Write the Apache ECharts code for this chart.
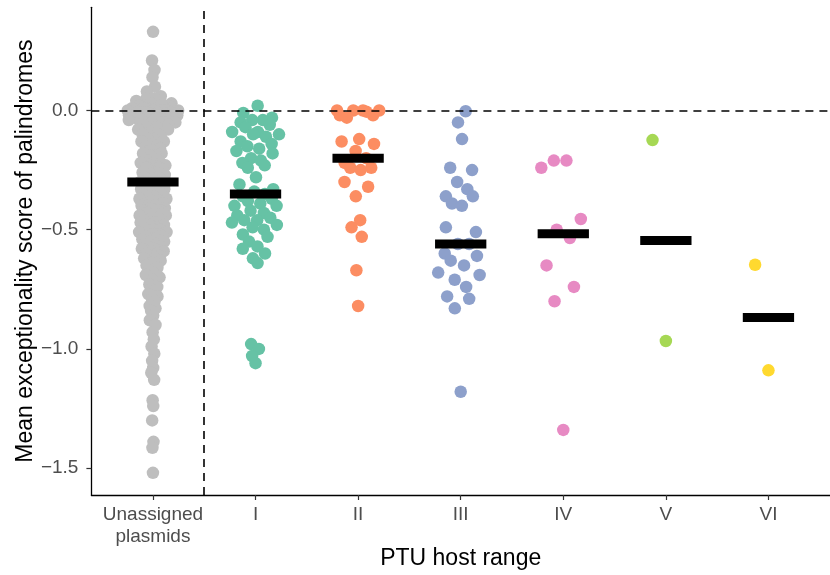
<!DOCTYPE html>
<html><head><meta charset="utf-8">
<script src="https://cdn.jsdelivr.net/npm/echarts@6/dist/echarts.min.js"></script>
<style>html,body{margin:0;padding:0;background:#fff}#c{width:830px;height:575px}</style>
</head><body><div id="c"></div>
<script>
const categories = ['Unassigned\nplasmids','I','II','III','IV','V','VI'];
const colors = ['#BEBEBE','#66C2A5','#FC8D62','#8DA0CB','#E78AC3','#A6D854','#FFD92F'];
const yTicks = [-1.5, -1.0, -0.5, 0.0];

const unassigned = [
 0.33,0.21,0.17,0.14,0.10,0.08,0.06,0.05,0.05,0.04,
 0.03,0.03,0.02,0.02,0.02,0.01,0.01,0.01,0.01,0.01,
 0.00,0.00,0.00,0.00,0.00,0.00,0.00,0.00,0.00,0.00,
 -0.01,-0.01,-0.01,-0.01,-0.01,-0.01,-0.01,-0.01,-0.01,-0.01,
 -0.02,-0.02,-0.02,-0.02,-0.02,-0.02,-0.02,-0.02,
 -0.03,-0.03,-0.03,-0.03,-0.03,-0.03,-0.04,-0.04,-0.04,-0.04,-0.05,-0.05,-0.05,
 -0.06,-0.06,-0.07,-0.07,-0.08,-0.08,-0.09,-0.10,-0.10,-0.11,-0.12,-0.12,-0.13,-0.13,-0.14,
 -0.15,-0.15,-0.16,-0.17,-0.17,-0.18,-0.18,-0.19,-0.19,-0.20,-0.21,-0.21,-0.22,-0.22,
 -0.23,-0.23,-0.24,-0.24,-0.25,-0.25,-0.26,-0.26,-0.27,-0.27,-0.28,-0.28,
 -0.29,-0.29,-0.29,-0.30,-0.30,-0.30,-0.30,
 -0.31,-0.31,-0.32,-0.32,-0.33,-0.33,-0.34,-0.34,-0.35,-0.35,-0.36,-0.36,-0.37,-0.37,
 -0.38,-0.38,-0.39,-0.39,-0.40,-0.40,-0.40,-0.41,-0.41,-0.42,-0.42,-0.42,-0.43,-0.43,
 -0.44,-0.44,-0.45,-0.45,-0.46,-0.46,-0.46,-0.47,-0.47,-0.48,-0.48,-0.49,-0.49,
 -0.50,-0.50,-0.50,-0.51,-0.51,-0.52,-0.52,-0.53,-0.53,-0.53,-0.54,-0.54,-0.55,-0.55,
 -0.56,-0.56,-0.57,-0.57,-0.58,-0.58,
 -0.59,-0.59,-0.60,-0.60,-0.61,-0.61,-0.62,-0.62,-0.63,-0.64,-0.64,-0.65,-0.66,
 -0.67,-0.68,-0.69,-0.70,-0.71,-0.72,-0.73,-0.74,-0.75,-0.76,-0.77,-0.78,-0.79,-0.80,
 -0.82,-0.83,-0.84,-0.86,-0.88,
 -0.90,-0.93,-0.96,-0.99,-1.02,-1.05,
 -1.08,-1.10,-1.13,
 -1.215,-1.24,-1.30,-1.39,-1.415,-1.52
];
const hostI = [0.02,-0.01,-0.03,-0.04,-0.04,-0.05,-0.06,-0.07,
 -0.09,-0.09,-0.10,-0.10,-0.11,-0.13,-0.14,-0.15,-0.16,-0.17,-0.18,-0.20,-0.21,-0.22,-0.23,-0.24,
 -0.28,-0.31,-0.33,-0.34,-0.35,-0.36,
 -0.37,-0.38,-0.39,-0.40,-0.40,-0.42,-0.43,-0.44,-0.45,-0.46,-0.46,-0.47,-0.48,-0.49,-0.50,
 -0.52,-0.53,-0.55,-0.57,-0.58,-0.60,-0.62,-0.64,
 -0.98,-1.00,-1.03,-1.06];
const hostII = [0.00,0.00,0.00,0.00,-0.005,-0.02,-0.02,-0.03,-0.12,-0.13,-0.14,-0.17,-0.20,-0.22,-0.24,-0.24,-0.25,-0.30,-0.32,-0.36,-0.46,-0.49,-0.53,-0.67,-0.82];
const hostIII = [-0.003,-0.05,-0.12,-0.24,-0.25,-0.30,-0.33,-0.36,-0.36,-0.39,-0.40,-0.49,-0.51,-0.56,-0.56,-0.60,-0.61,-0.63,-0.65,-0.68,-0.69,-0.71,-0.74,-0.78,-0.79,-0.83,-1.18];
const hostIV = [-0.21,-0.21,-0.24,-0.455,-0.50,-0.535,-0.65,-0.74,-0.80,-1.34];
const hostV = [-0.124,-0.967];
const hostVI = [-0.647,-1.09];

const groups = [unassigned, hostI, hostII, hostIII, hostIV, hostV, hostVI];
const FONT = '"Liberation Sans", Arial, Helvetica, sans-serif';

// quasirandom (van der Corput) offsets scaled by kernel density, as ggbeeswarm does
function sd(a){const m=a.reduce((s,v)=>s+v,0)/a.length;return Math.sqrt(a.reduce((s,v)=>s+(v-m)*(v-m),0)/(a.length-1));}
function q7(s,p){const h=(s.length-1)*p,lo=Math.floor(h),hi=Math.ceil(h);return s[lo]+(h-lo)*(s[hi]-s[lo]);}
function bwNrd0(a){const s=[...a].sort((x,y)=>x-y);const hi=sd(a);let lo=Math.min(hi,(q7(s,0.75)-q7(s,0.25))/1.34);if(!lo)lo=hi||Math.abs(a[0])||1;return 0.9*lo*Math.pow(a.length,-0.2);}
function dens(a,bw,x){let s=0;for(const v of a){const z=(x-v)/bw;s+=Math.exp(-0.5*z*z);}return s;}
function vdc(k){let r=0,f=0.5;while(k>0){if(k&1)r+=f;k>>=1;f/=2;}return r;}
function offsets(a,adjust){
  const n=a.length;if(n===1)return[0];
  const bw=bwNrd0(a)*adjust;
  const lo=Math.min(...a)-3*bw,hi=Math.max(...a)+3*bw;
  let mx=0;for(let i=0;i<1024;i++){const x=lo+(hi-lo)*i/1023;mx=Math.max(mx,dens(a,bw,x));}
  const idx=a.map((v,i)=>i).sort((i,j)=>(a[i]-a[j])||(i-j));
  const rank=new Array(n);idx.forEach((i,r)=>rank[i]=r+1);
  return a.map((v,i)=>(vdc(rank[i])-0.5)*2*dens(a,bw,v)/mx);
}
function median(a){const s=[...a].sort((x,y)=>x-y);const n=s.length;return n%2?s[(n-1)/2]:(s[n/2-1]+s[n/2])/2;}

const WIDTH = 0.26;
const series = [{
  type:'scatter', data:[], z:1, silent:true,
  markLine:{silent:true, symbol:'none', label:{show:false}, animation:false,
    lineStyle:{type:[8,6], color:'#000', width:1.6},
    data:[{yAxis:0},{xAxis:0.5}]}
}];
groups.forEach((g,gi)=>{
  const off = offsets(g,0.5);
  series.push({type:'scatter', z:2, symbolSize:12.5, silent:true,
    itemStyle:{color:colors[gi], opacity:1},
    data:g.map((v,i)=>[gi+WIDTH*off[i], v])});
});
const medData = groups.map((g,gi)=>[gi, median(g)]);
series.push({type:'custom', z:5, silent:true, data:medData,
  renderItem:(params,api)=>{
    const c=api.value(0), m=api.value(1);
    const p1=api.coord([c-0.25,m]), p2=api.coord([c+0.25,m]);
    return {type:'rect', shape:{x:p1[0], y:p1[1]-4.5, width:p2[0]-p1[0], height:9}, style:{fill:'#000'}};
  }});

const chart = echarts.init(document.getElementById('c'), null, {renderer:'canvas'});
chart.setOption({
  animation:false,
  backgroundColor:'#fff',
  grid:{left:91.4, top:7.3, width:751, height:490, containLabel:false},
  xAxis:{type:'value', min:-0.6, max:6.6, splitLine:{show:false},
    axisLine:{show:true, onZero:false, lineStyle:{color:'#000', width:1.3}},
    axisTick:{show:true, customValues:[0,1,2,3,4,5,6], length:5, lineStyle:{color:'#333', width:1.2}},
    axisLabel:{customValues:[0,1,2,3,4,5,6], formatter:v=>categories[Math.round(v)], color:'#4D4D4D', fontSize:19, fontFamily:FONT, lineHeight:22, margin:9},
    name:'PTU host range', nameLocation:'middle', nameGap:52, nameMoveOverlap:false,
    nameTextStyle:{fontSize:23, color:'#000', fontFamily:FONT}},
  yAxis:{type:'value', min:-1.613, max:0.433, splitLine:{show:false},
    axisLine:{show:true, onZero:false, lineStyle:{color:'#000', width:1.3}},
    axisTick:{show:true, customValues:yTicks, length:5, lineStyle:{color:'#333', width:1.2}},
    axisLabel:{customValues:yTicks, formatter:v=>(v<0?'\u2212':'')+Math.abs(v).toFixed(1), color:'#4D4D4D', fontSize:19, fontFamily:FONT, margin:13},
    name:'Mean exceptionality score of palindromes', nameLocation:'middle', nameGap:54, nameMoveOverlap:false,
    nameTextStyle:{fontSize:23, color:'#000', fontFamily:FONT}},
  series:series
});
</script></body></html>
